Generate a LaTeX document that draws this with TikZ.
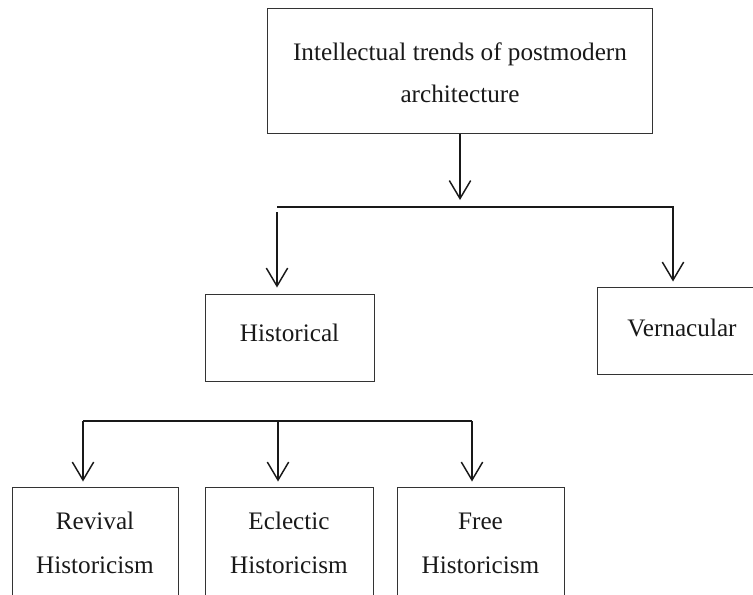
\documentclass[tikz,border=0pt]{standalone}
\usepackage{fontspec}
\setmainfont{Liberation Serif}
\usetikzlibrary{arrows.meta,fit}
\begin{document}
\begin{tikzpicture}[x=0.75pt,y=-0.75pt,
  box/.style={draw=black!80,line width=0.75pt,rectangle,inner sep=0pt},
  conn/.style={draw=black!90,line width=1.1pt},
  arr/.style={conn,-{Straight Barb[length=13.5pt,width=16pt,line width=1.1pt]}},
  txt/.style={anchor=base,inner sep=0pt,font=\fontsize{18.9}{22}\selectfont,text=black!90}]
\useasboundingbox (0,0) rectangle (753,594);
\clip (0,0) rectangle (753,594);
% boxes
\node[box,fit={(267,8) (652,133)}] (top) {};
\node[box,fit={(205,294) (374,381)}] (hist) {};
\node[box,fit={(597,287) (767,374)}] (vern) {};
\node[box,fit={(12,487) (178,640)}] (rev) {};
\node[box,fit={(205,487) (373,640)}] (ecl) {};
\node[box,fit={(397,487) (564,640)}] (free) {};
% texts
\node[txt] (t1) at (460,60) {Intellectual trends of postmodern};
\node[txt] (t2) at (460,102) {architecture};
\node[txt] (th) at (289.5,341.7) {Historical};
\node[txt] (tv) at (682,336.7) {Vernacular};
\node[txt] (tr1) at (95,529) {Revival};
\node[txt] (tr2) at (95,573) {Historicism};
\node[txt] (te1) at (289,529) {Eclectic};
\node[txt] (te2) at (289,573) {Historicism};
\node[txt] (tf1) at (480.5,529) {Free};
\node[txt] (tf2) at (480.5,573) {Historicism};
% junction coordinates
\coordinate (a1) at (460,200);
\coordinate (b1) at (277,207);
\coordinate (b2) at (673,207);
\coordinate (b3) at (277,212);
\coordinate (c1) at (83,421);
\coordinate (c2) at (278,421);
\coordinate (c3) at (472,421);
% connectors
\draw[arr] (top.south -| a1) -- (a1);
\draw[arr,shorten >=3.75pt] (b1) -- (b2) -- (b2 |- vern.north);
\draw[arr,shorten >=4.5pt] (b3) -- (b3 |- hist.north);
\draw[conn] (c3) -- (c1);
\draw[arr,shorten >=3.75pt] (c1) -- (c1 |- rev.north);
\draw[arr,shorten >=3.75pt] (c2) -- (c2 |- ecl.north);
\draw[arr,shorten >=3.75pt] (c3) -- (c3 |- free.north);
\end{tikzpicture}
\end{document}
